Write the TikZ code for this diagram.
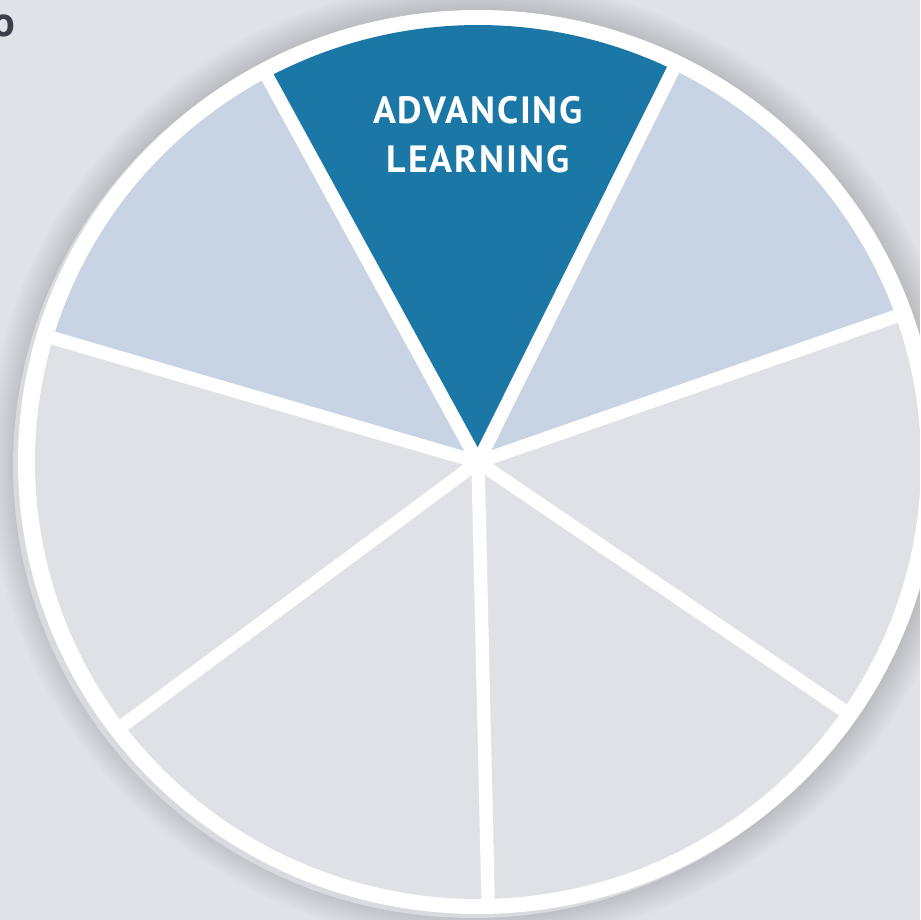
\documentclass[tikz,border=0pt]{standalone}
\usepackage{fontspec}
\setmainfont{PT Sans}
\usetikzlibrary{calc}
\definecolor{bg}{HTML}{E1E2E7}
\definecolor{rim}{HTML}{D9DAE0}
\definecolor{grey}{HTML}{E0E1E7}
\definecolor{pale}{HTML}{C8D4E4}
\definecolor{deep}{HTML}{1B77A5}
\definecolor{ink}{HTML}{3B3F48}
\begin{document}
\begin{tikzpicture}[x=0.01cm, y=0.01cm]
\tikzstyle{sector}=[draw=none]
\tikzstyle{spoke}=[draw=white, line width=3.8pt]
\tikzstyle{shade}=[fill=black, fill opacity=0.012, draw=none]
\useasboundingbox (0,0) rectangle (920,920);
\clip (0,0) rectangle (920,920);
\fill[bg] (0,0) rectangle (920,920);
\coordinate (C) at (478,458);
% soft shadow round the disc
\foreach \s in {1,...,12}
  \fill[shade] (C) ellipse [x radius=460+2.5*\s, y radius=452+2.5*\s];
\fill[rim] ($(C)+(-5,-4)$) ellipse [x radius=460, y radius=452];
\fill[white] (C) ellipse [x radius=460, y radius=452];
% sectors
\foreach \a/\b/\col in {63.9/118.3/deep, 19.5/63.9/pale, 118.3/163.5/pale,
    -34.6/19.5/grey, -88.7/-34.6/grey, -143/-88.7/grey, 163.5/217/grey}
  \fill[sector, \col] (C) -- ++(\a:443 and 437)
    arc [start angle=\a, end angle=\b, x radius=443, y radius=437] -- cycle;
\foreach \a in {63.9, 19.5, -34.6, -88.7, -143, 163.5, 118.3}
  \draw[spoke] (C) -- ++(\a:452 and 445);
\node[text=white, align=center, font=\bfseries\fontsize{10.8}{13.9}\selectfont\addfontfeatures{LetterSpace=5}] (lbl)
  at (478,785) {ADVANCING\\LEARNING};
\node[anchor=base east, inner sep=0pt, text=ink, font=\bfseries\fontsize{12}{14}\selectfont] (tag)
  at (15.5,884) {o};
\end{tikzpicture}
\end{document}
